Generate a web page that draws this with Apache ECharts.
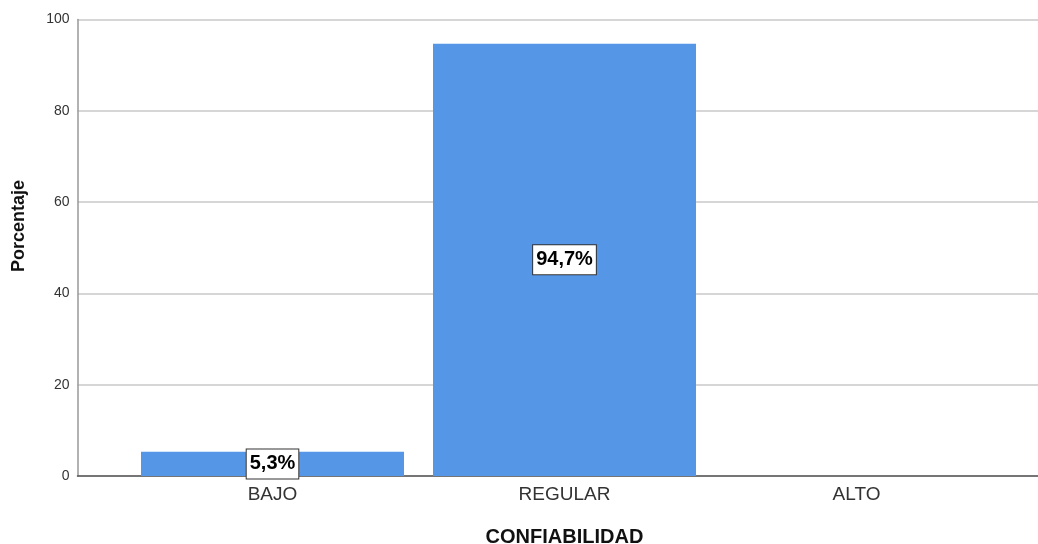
<!DOCTYPE html>
<html>
<head>
<meta charset="utf-8">
<script src="https://cdn.jsdelivr.net/npm/echarts@6/dist/echarts.min.js"></script>
<style>
  html, body { margin: 0; padding: 0; background: #fff; }
  #chart { width: 1038px; height: 544px; }
</style>
</head>
<body>
<div id="chart"></div>
<script>
// Niveles de confiabilidad y su porcentaje
const categories = ['BAJO', 'REGULAR', 'ALTO'];
const percentages = [5.3, 94.7, null];
const yTicks = [0, 20, 40, 60, 80, 100];

const FONT = '"Liberation Sans", Arial, sans-serif';
const chart = echarts.init(document.getElementById('chart'));

chart.setOption({
  animation: false,
  backgroundColor: '#ffffff',
  grid: [
    // frame: y axis, gridlines and baseline
    { left: 77.5, right: -20, top: 19.5, bottom: 68, outerBoundsMode: 'none', containLabel: false },
    // bars
    { left: 126.5, width: 876, top: 19.5, bottom: 68, outerBoundsMode: 'none', containLabel: false }
  ],
  xAxis: [
    {
      gridIndex: 0, type: 'value', min: 0, max: 1,
      axisLine: { show: true, onZero: false, lineStyle: { color: '#555', width: 1.5 } },
      axisTick: { show: false }, axisLabel: { show: false }, splitLine: { show: false }
    },
    {
      gridIndex: 1, type: 'category', data: categories,
      axisLine: { show: false }, axisTick: { show: false },
      axisLabel: { color: '#333', fontFamily: FONT, fontSize: 19, margin: 9 },
      name: 'CONFIABILIDAD', nameLocation: 'middle', nameGap: 51,
      nameTextStyle: { color: '#111', fontFamily: FONT, fontSize: 20, fontWeight: 'bold' }
    }
  ],
  yAxis: [
    {
      gridIndex: 0, type: 'value', min: yTicks[0], max: yTicks[yTicks.length - 1], interval: 20,
      axisLine: { show: true, lineStyle: { color: '#999', width: 1.5 } },
      axisTick: { show: false },
      axisLabel: { color: '#333', fontFamily: FONT, fontSize: 14, margin: 8 },
      splitLine: { show: true, lineStyle: { color: '#c8c8c8', width: 1.5 } }
    },
    {
      gridIndex: 1, type: 'value', min: 0, max: 100, show: false
    }
  ],
  graphic: [
    {
      type: 'text', x: 19, y: 226, rotation: Math.PI / 2,
      style: {
        text: 'Porcentaje', fill: '#111', font: 'bold 18px ' + FONT,
        textAlign: 'center', textVerticalAlign: 'middle'
      }
    }
  ],
  series: [
    {
      type: 'bar', xAxisIndex: 1, yAxisIndex: 1,
      data: percentages, barWidth: 263,
      itemStyle: { color: '#5596e6' },
      label: {
        show: true, position: 'inside', offset: [0, 0],
        formatter: p => p.value.toFixed(1).replace('.', ',') + '%',
        color: '#000', fontFamily: FONT, fontSize: 20, fontWeight: 'bold',
        backgroundColor: '#fff', borderColor: '#333', borderWidth: 1,
        padding: [5, 3, 4, 3]
      }
    }
  ]
});
</script>
</body>
</html>
